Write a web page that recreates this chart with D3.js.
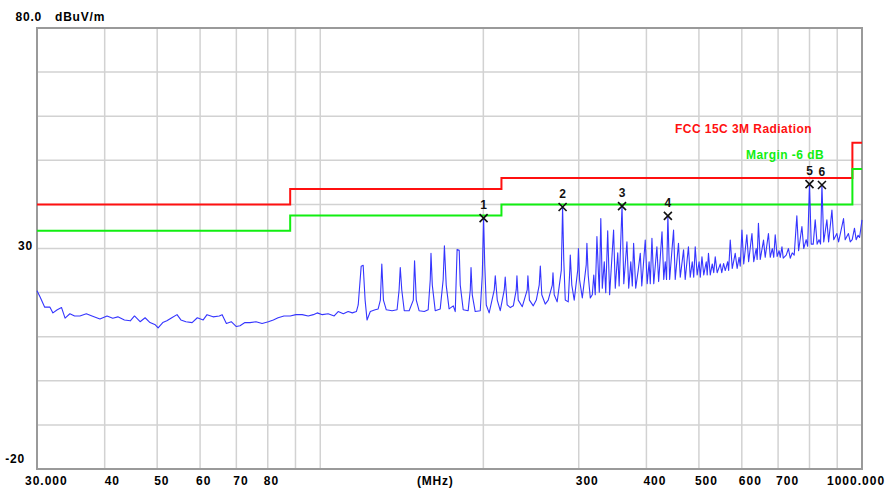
<!DOCTYPE html>
<html>
<head>
<meta charset="utf-8">
<script src="https://cdn.jsdelivr.net/npm/d3@7/dist/d3.min.js"></script>
<style>
  html, body { margin: 0; padding: 0; background: #ffffff; }
  svg { display: block; }
  text { font-family: "Liberation Sans", Arial, sans-serif; font-weight: bold; font-size: 12px; }
</style>
</head>
<body>
<svg id="chart" width="885" height="489"></svg>
<script>
// ---------------- data ----------------
const freqDomain = [30, 1000];          // MHz
const levelDomain = [-20, 80];          // dBuV/m

const xGridMHz = [40, 50, 60, 70, 80, 90, 100, 200, 300, 400, 500, 600, 700, 800, 900];
const yGridDb = [70, 60, 50, 40, 30, 20, 10, 0, -10];

const xTickMHz = [30, 40, 50, 60, 70, 80, 300, 400, 500, 600, 700, 1000];
const xTickText = ["30.000", "40", "50", "60", "70", "80", "300", "400", "500", "600", "700", "1000.000"];
const yTickDb = [80, 30, -20];
const yTickText = ["80.0", "30", "-20"];
const unitLabel = "dBuV/m";
const freqUnitLabel = "(MHz)";

const limitName = "FCC 15C 3M Radiation";
const limitMHz = [30, 88, 88, 216, 216, 960, 960, 1000];
const limitDb = [40, 40, 43.5, 43.5, 46, 46, 54, 54];

const marginName = "Margin -6 dB";
const marginMHz = [30, 88, 88, 216, 216, 960, 960, 1000];
const marginDb = [34, 34, 37.5, 37.5, 40, 40, 48, 48];

const markerId = ["1", "2", "3", "4", "5", "6"];
const markerMHz = [200.2, 280.1, 360.6, 438.2, 800.0, 843.4];
const markerDb = [36.9, 39.4, 39.6, 37.4, 44.6, 44.4];

const traceMHz = [
  30, 30.4, 31.0, 31.7, 32.1, 32.7, 33.3, 33.8, 34.5, 35.2, 36.0, 37.0, 37.9, 39.2, 40.4, 41.4, 42.3, 43.5, 44.6, 45.4,
  46.5, 47.5, 48.5, 49.6, 50.2, 51.2, 52.1, 53.2, 54.4, 55.3, 56.5, 58.0, 59.3, 60.8, 61.8, 63.4, 65.1, 65.9, 67.1, 68.5,
  70.0, 71.1, 72.6, 74.2, 76.1, 78.1, 80.2, 81.9, 83.6, 85.7, 88.0, 90.2, 92.6, 95.0, 97.1, 98.7, 100.9, 103.4, 106.1, 107.9,
  110.3, 112.6, 114.6, 116.6,
  117.5, 119.0, 120.0, 121.0, 122.0, 123.7, 126.3, 127.9, 129.1, 129.9, 130.8, 132.4, 135.7, 138.6, 139.8, 140.5, 141.4, 142.9, 145.9,
  148.5, 149.3, 150.4, 152.2, 155.6, 158.2, 159.6, 160.1, 161.0, 163.0, 166.5, 168.6, 169.5, 170.8, 172.9, 176.0, 177.5, 178.2,
  178.9, 180.5, 181.3, 183.6, 187.5, 189.2, 189.8, 190.8, 193.2, 197.4, 199.1, 200.2, 201.2, 202.5, 205.0, 209.5, 210.4, 212.2,
  214.9, 218.6, 219.5, 221.3, 224.3, 227.2, 230.0, 230.7, 232.0, 236.0, 241.0, 241.7, 243.3, 247.3, 250.5, 253.6, 254.8, 256.4,
  260.2, 263.5, 268.1, 268.9, 270.3, 273.7, 278.6, 280.1, 281.5, 283.3, 286.9, 288.8, 289.4, 291.3, 294.3, 298.7, 299.6, 301.1,
  304.6, 309.7, 310.6, 312.3, 315.1, 317.8, 319.8, 321.8, 323.2, 324.1, 326.0, 327.4,
  329.5, 331.6, 334.4, 336.5, 339.3, 342.1, 347.9, 350.4, 354.1, 356.2, 360.6, 363.3, 368.2, 371.0, 374.3, 376.7, 378.8, 382.2,
  386.2, 389.7, 392.2, 398.0, 401.3, 404.6, 406.6, 409.5, 412.7, 418.2, 421.3, 427.4, 430.6, 433.3, 435.7, 438.2, 441.5, 448.9,
  452.1, 458.4, 461.9, 468.4, 471.7, 478.2, 481.9, 486.0, 489.1, 492.2, 496.3, 500.4, 502.9, 506.5, 510.4, 515.8, 517.9, 520.7,
  524.7, 529.2, 532.5, 535.9, 540.3, 547.5, 551.0, 555.2, 559.2, 565.0, 567.3, 571.2, 576.1, 583.4, 588.2, 593.1, 596.0, 600.3,
  604.9, 613.0, 617.6, 626.4, 631.2, 637.8, 640.4, 643.9, 648.9, 658.0, 662.7, 671.9, 677.1, 682.9, 687.2, 691.5, 697.3, 703.0,
  706.5, 711.6, 715.5, 724.6, 731.5, 737.1, 743.4, 749.6, 758.1, 763.8, 774.6, 780.6, 788.8, 793.7, 800.0, 805.9, 812.8, 819.6,
  826.4, 833.2, 838.5, 843.4, 849.9, 861.3, 867.7, 880.0, 886.7, 898.6, 905.3, 924.5, 931.0, 943.9, 951.2, 959.3, 968.6, 975.5,
  983.5, 989.7, 1000
];
const traceDb = [
  20.4, 19.0, 16.7, 16.7, 15.4, 16.1, 16.6, 14.2, 15.2, 14.7, 14.7, 15.2, 14.7, 14.0, 14.7, 14.2, 14.5, 13.8, 13.6, 14.7,
  13.4, 14.3, 13.2, 12.7, 12.0, 13.2, 13.6, 14.3, 15.0, 13.8, 13.4, 13.2, 14.3, 13.8, 15.0, 14.5, 14.7, 15.0, 13.0, 13.4,
  12.3, 12.5, 13.2, 13.2, 13.4, 13.0, 13.4, 13.8, 14.3, 14.7, 14.7, 15.0, 15.0, 14.7, 15.0, 15.4, 15.0, 15.2, 14.7, 15.7,
  15.2, 15.7, 15.4, 15.7,
  17.2, 26.0, 26.2, 18.3, 13.8, 15.7, 16.1, 16.3, 18.3, 26.5, 18.3, 16.1, 15.9, 16.1, 20.6, 25.7, 20.6, 15.9, 15.9,
  18.3, 27.2, 18.3, 15.9, 15.7, 16.1, 22.9, 28.9, 21.7, 15.9, 16.3, 22.9, 30.6, 21.7, 16.3, 17.0, 15.7, 22.9,
  29.8, 29.6, 21.7, 16.1, 15.9, 20.6, 25.7, 19.5, 15.7, 15.9, 24.0, 36.9, 26.3, 17.2, 15.4, 20.6, 23.8, 18.3,
  15.9, 20.6, 23.5, 17.2, 16.6, 17.0, 20.6, 23.8, 18.3, 16.8, 20.6, 23.8, 18.3, 17.0, 18.3, 21.7, 26.0, 19.5,
  17.4, 18.3, 21.7, 24.5, 19.5, 17.9, 25.1, 39.4, 27.4, 18.3, 17.9, 25.1, 28.5, 21.7, 18.3, 25.1, 30.0, 22.9,
  18.8, 26.3, 31.2, 24.0, 18.8, 19.5, 24.0, 19.5, 27.4, 32.7, 25.1, 20.1,
  36.8, 21.0, 27.0, 20.0, 34.0, 19.5, 34.2, 21.0, 29.0, 21.5, 39.6, 22.0, 31.5, 21.0, 27.0, 21.5, 31.2, 21.0,
  25.0, 28.9, 21.5, 31.9, 22.0, 27.0, 22.0, 32.3, 22.0, 30.4, 22.5, 33.8, 23.0, 27.0, 23.0, 37.4, 23.0, 34.2,
  23.0, 31.2, 23.5, 29.7, 23.0, 30.4, 23.5, 27.0, 23.5, 30.4, 24.0, 27.0, 23.5, 28.1, 24.0, 27.0, 24.0, 28.9,
  24.0, 26.5, 24.5, 28.1, 24.5, 26.5, 24.5, 26.6, 25.0, 27.0, 25.0, 31.9, 25.5, 28.9, 25.5, 28.0, 26.0, 34.2,
  26.5, 33.1, 27.0, 33.4, 27.0, 30.0, 27.5, 35.7, 27.5, 31.9, 28.0, 33.4, 28.0, 30.0, 28.0, 33.1, 28.2, 29.5,
  28.0, 30.4, 27.8, 28.5, 30.0, 27.8, 29.0, 28.5, 37.4, 29.5, 35.0, 30.0, 32.0, 30.5, 44.6, 31.0, 31.0, 36.5,
  31.0, 32.0, 31.0, 44.4, 31.5, 36.5, 31.5, 38.7, 32.0, 33.4, 31.5, 36.8, 32.0, 33.4, 31.5, 32.0, 34.6, 32.0,
  33.0, 32.5, 36.5
];

// ---------------- drawing ----------------
const svg = d3.select("#chart");
const x = d3.scaleLog().domain(freqDomain).range([37, 862]);
const y = d3.scaleLinear().domain(levelDomain).range([469, 28]);

svg.append("rect").attr("width", 885).attr("height", 489).attr("fill", "#ffffff");

// grid
svg.append("g").selectAll("line").data(xGridMHz).join("line")
  .attr("x1", d => x(d)).attr("x2", d => x(d))
  .attr("y1", y(80)).attr("y2", y(-20))
  .attr("stroke", "#d2d2d2").attr("stroke-width", 1.5);
svg.append("g").selectAll("line").data(yGridDb).join("line")
  .attr("x1", x(30)).attr("x2", x(1000))
  .attr("y1", d => y(d)).attr("y2", d => y(d))
  .attr("stroke", "#d2d2d2").attr("stroke-width", 1.5);

// frame
svg.append("rect")
  .attr("x", x(30)).attr("y", y(80))
  .attr("width", x(1000) - x(30)).attr("height", y(-20) - y(80))
  .attr("fill", "none").attr("stroke", "#9a9a9a").attr("stroke-width", 2);

// limit lines
const lineGen = d3.line().x(d => x(d[0])).y(d => y(d[1]));
svg.append("path")
  .attr("d", lineGen(limitMHz.map((f, i) => [f, limitDb[i]])))
  .attr("fill", "none").attr("stroke", "#ff1010").attr("stroke-width", 2);
svg.append("path")
  .attr("d", lineGen(marginMHz.map((f, i) => [f, marginDb[i]])))
  .attr("fill", "none").attr("stroke", "#11ee11").attr("stroke-width", 2);

// trace
svg.append("path")
  .attr("d", lineGen(traceMHz.map((f, i) => [f, traceDb[i]])))
  .attr("fill", "none").attr("stroke", "#3535ff").attr("stroke-width", 1.1)
  .attr("stroke-linejoin", "round");

// markers
const mk = svg.append("g").selectAll("g").data(markerId).join("g")
  .attr("transform", (d, i) => `translate(${x(markerMHz[i])},${y(markerDb[i])})`);
mk.append("path").attr("d", "M-4,-4L4,4M-4,4L4,-4")
  .attr("stroke", "#111").attr("stroke-width", 1.6).attr("fill", "none");
mk.append("text").attr("y", -9).attr("text-anchor", "middle")
  .attr("fill", "#111").style("letter-spacing", "0px").text(d => d);

// legend texts
svg.append("text").attr("x", 675).attr("y", 132.5).attr("fill", "#ff1010")
  .style("letter-spacing", "0.45px").text(limitName);
svg.append("text").attr("x", 746).attr("y", 158.5).attr("fill", "#11ee11")
  .style("letter-spacing", "0.45px").text(marginName);

// axis labels
const yLabelRight = [42, 33, 25];
const yLabelDy = [-7.5, 1.5, -6.5];
svg.append("g").selectAll("text").data(yTickDb).join("text")
  .attr("x", (d, i) => yLabelRight[i])
  .attr("y", (d, i) => y(d) + yLabelDy[i])
  .attr("text-anchor", "end").style("letter-spacing", "0.8px")
  .text((d, i) => yTickText[i]);
svg.append("text").attr("x", 55).attr("y", 20.5).style("letter-spacing", "0.8px").text(unitLabel);

const xLabelDx = [-12, 0, -3, -4, -3, -4, -3, -3, -4, -3, -2, -35];
svg.append("g").selectAll("text").data(xTickMHz).join("text")
  .attr("x", (d, i) => x(d) + xLabelDx[i])
  .attr("y", 484.5)
  .style("letter-spacing", "1px")
  .text((d, i) => xTickText[i]);
svg.append("text").attr("x", 417).attr("y", 484.5).style("letter-spacing", "0.8px").text(freqUnitLabel);
</script>
</body>
</html>
